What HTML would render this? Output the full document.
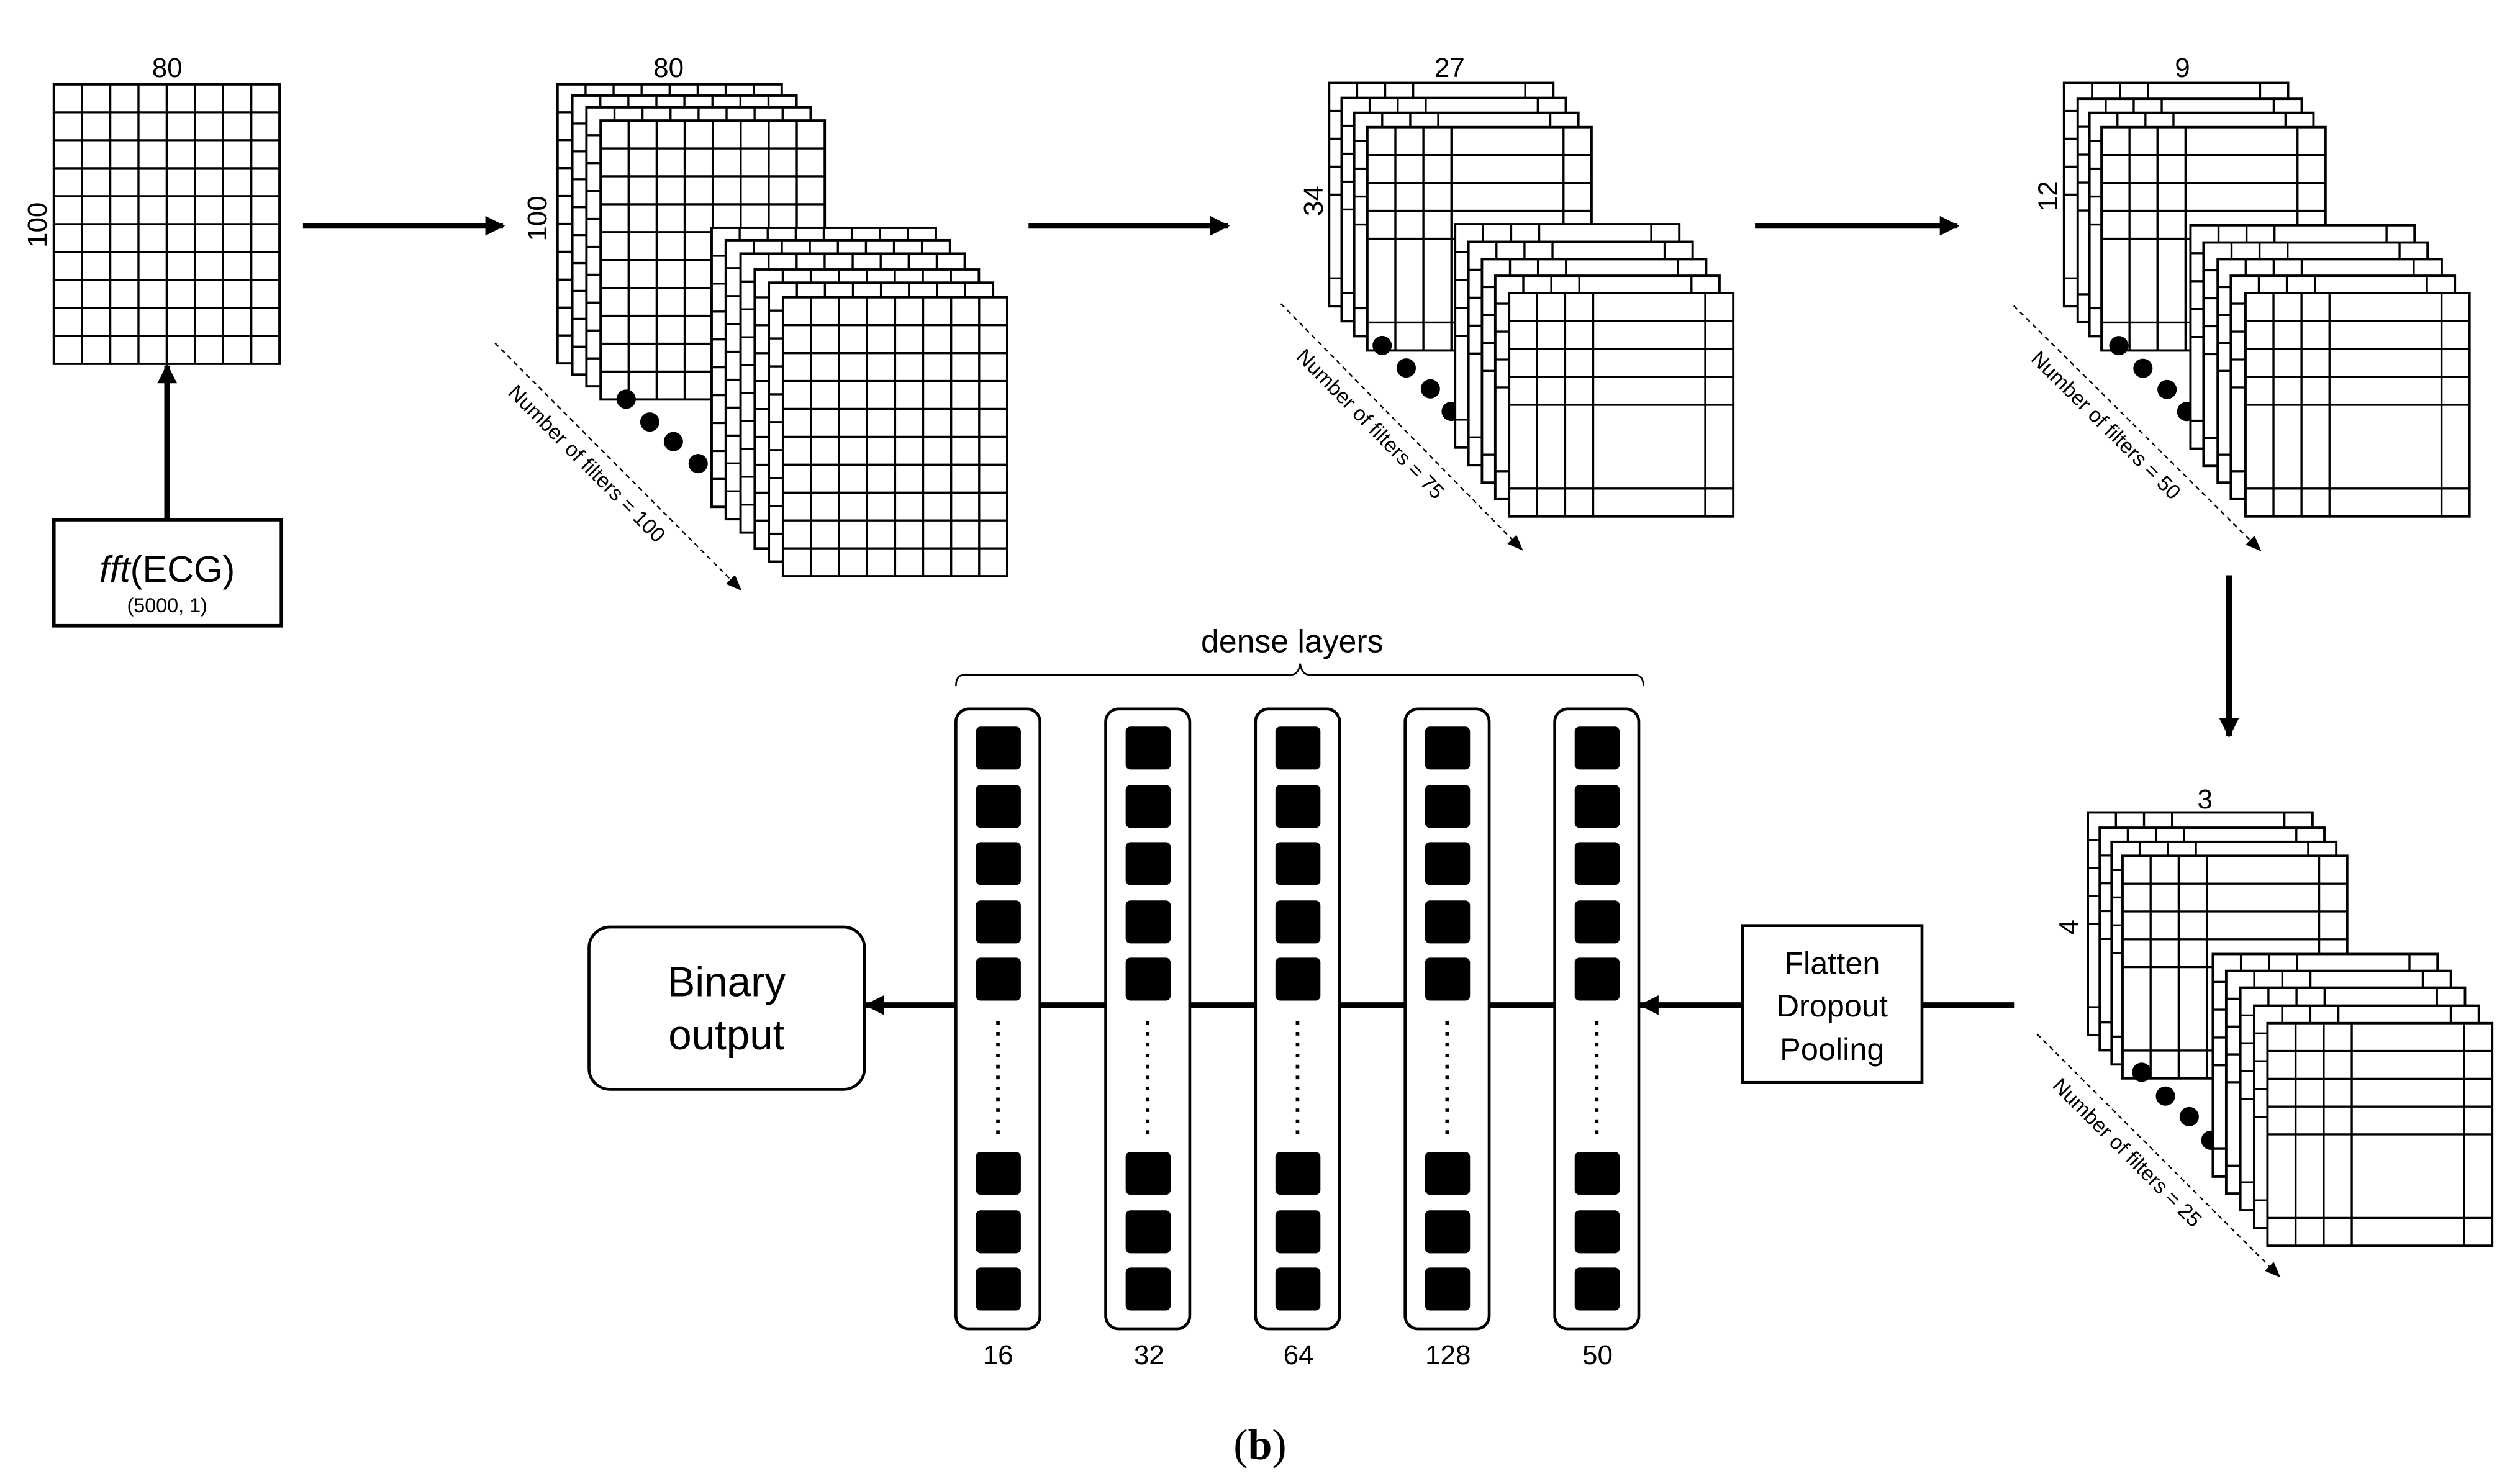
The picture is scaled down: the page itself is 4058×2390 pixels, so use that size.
<!DOCTYPE html>
<html><head><meta charset="utf-8">
<style>
html,body{margin:0;padding:0;background:#fff;}
svg{display:block;}
text{font-family:"Liberation Sans",Arial,sans-serif;fill:#000;}
</style></head>
<body>
<svg id="s" xmlns="http://www.w3.org/2000/svg" width="4058" height="2390" viewBox="0 0 1568 923.5">
<defs>
<marker id="ah" viewBox="0 0 10 10" refX="9" refY="5" markerWidth="3.4" markerHeight="3.4" orient="auto" markerUnits="strokeWidth"><path d="M0,0 L10,5 L0,10 z" fill="#000"/></marker>
<marker id="ahd" viewBox="0 0 10 10" refX="9" refY="5" markerWidth="11" markerHeight="11" orient="auto" markerUnits="strokeWidth"><path d="M0,1 L10,5 L0,9 z" fill="#000"/></marker>
</defs>
<rect width="1568" height="923.5" fill="#fff"/>
<g id="g"></g>

<text x="104" y="48" font-size="17" text-anchor="middle">80</text>
<text transform="translate(29,140) rotate(-90)" font-size="17" text-anchor="middle">100</text>
<text x="416" y="48" font-size="17" text-anchor="middle">80</text>
<text transform="translate(340,136) rotate(-90)" font-size="17" text-anchor="middle">100</text>
<text x="902" y="48" font-size="17" text-anchor="middle">27</text>
<text transform="translate(823,125) rotate(-90)" font-size="17" text-anchor="middle">34</text>
<text x="1358" y="48" font-size="17" text-anchor="middle">9</text>
<text transform="translate(1280,122) rotate(-90)" font-size="17" text-anchor="middle">12</text>
<text x="1372" y="503" font-size="17" text-anchor="middle">3</text>
<text transform="translate(1293,577) rotate(-90)" font-size="17" text-anchor="middle">4</text>

<rect x="33.5" y="323.4" width="141.6" height="66" fill="#fff" stroke="#000" stroke-width="2.2"/>
<text x="104" y="362" font-size="23" text-anchor="middle"><tspan font-style="italic">fft</tspan>(ECG)</text>
<text x="104" y="381" font-size="12.5" text-anchor="middle">(5000, 1)</text>

<text x="804" y="406" font-size="20" text-anchor="middle">dense layers</text>
<path d="M594.8,427 Q594.8,420 600,420 L803,420 Q808,420 809,413 Q810,420 815,420 L1017,420 Q1022.6,420 1022.6,427" fill="none" stroke="#000" stroke-width="1"/>

<text x="621" y="849" font-size="17" text-anchor="middle">16</text>
<text x="715" y="849" font-size="17" text-anchor="middle">32</text>
<text x="808" y="849" font-size="17" text-anchor="middle">64</text>
<text x="901" y="849" font-size="17" text-anchor="middle">128</text>
<text x="994" y="849" font-size="17" text-anchor="middle">50</text>

<rect x="366.5" y="576.9" width="171.4" height="101" rx="13" fill="#fff" stroke="#000" stroke-width="1.8"/>
<text x="452" y="620" font-size="26" text-anchor="middle">Binary</text>
<text x="452" y="653" font-size="26" text-anchor="middle">output</text>

<rect x="1084.2" y="576" width="111.7" height="97.6" fill="#fff" stroke="#000" stroke-width="1.8"/>
<text x="1140" y="606" font-size="19.5" text-anchor="middle">Flatten</text>
<text x="1140" y="632.5" font-size="19.5" text-anchor="middle">Dropout</text>
<text x="1140" y="659.5" font-size="19.5" text-anchor="middle">Pooling</text>

<text x="784" y="908" font-size="27" text-anchor="middle" style="font-family:'Liberation Serif',serif">(<tspan font-weight="bold">b</tspan>)</text>
</svg>
<script>
(function(){
var NS="http://www.w3.org/2000/svg";
var g=document.getElementById('g');
function el(t,a){var e=document.createElementNS(NS,t);for(var k in a)e.setAttribute(k,a[k]);g.appendChild(e);return e;}
function sheet(x,y,w,h,type){
  el('rect',{x:x,y:y,width:w,height:h,fill:'#fff',stroke:'#000','stroke-width':1.5});
  var cf,rf;
  if(type==='d'){cf=[];for(var i=1;i<8;i++)cf.push(i/8);rf=[];for(i=1;i<10;i++)rf.push(i/10);}
  else{cf=[0.125,0.25,0.375,0.875];rf=[0.125,0.25,0.375,0.5,0.875];}
  cf.forEach(function(f){el('line',{x1:x+w*f,y1:y,x2:x+w*f,y2:y+h,stroke:'#000','stroke-width':1.3});});
  rf.forEach(function(f){el('line',{x1:x,y1:y+h*f,x2:x+w,y2:y+h*f,stroke:'#000','stroke-width':1.3});});
}
function layer(back,front,w,h,type,dots,arr,label){
  el('line',{x1:arr[0],y1:arr[1],x2:arr[2],y2:arr[3],stroke:'#000','stroke-width':0.9,'stroke-dasharray':'3,2.5','marker-end':'url(#ahd)'});
  var mx=(arr[0]+arr[2])/2-20,my=(arr[1]+arr[3])/2-1;
  var ang=Math.atan2(arr[3]-arr[1],arr[2]-arr[0])*180/Math.PI;
  var t=el('text',{transform:'translate('+mx+','+my+') rotate('+ang+')','font-size':13,'text-anchor':'middle','dominant-baseline':'middle'});
  t.textContent=label;
  back.forEach(function(p){sheet(p[0],p[1],w,h,type);});
  dots.forEach(function(d){el('circle',{cx:d[0],cy:d[1],r:6,fill:'#000'});});
  front.forEach(function(p){sheet(p[0],p[1],w,h,type);});
}
sheet(33.5,52.5,140.4,173.9,'d');
layer([[346.9,52.5],[356.1,59.5],[364.9,66.8],[373.7,75]],
      [[442.8,141.8],[451.6,149.5],[460.8,157.8],[469.6,167.7],[478.4,175.9],[487.2,185]],
      139.5,173.6,'d',[[389.6,248.4],[404.3,262.6],[419,274.8],[434.4,288.5]],
      [308,213.5,460.8,366.9],'Number of filters = 100');
layer([[827,51.6],[834.8,60.9],[842.6,70.2],[850.8,79.1]],
      [[905.4,139.5],[913.7,150.5],[922.1,161.3],[930.4,171.6],[939,182.4]],
      139.5,139,'s',[[860,215],[875,229],[890,242],[903,256]],
      [797,189,947,342],'Number of filters = 75');
layer([[1284.3,51.6],[1292.8,61.5],[1300.1,70.2],[1307.6,79.1]],
      [[1363,140.2],[1371.1,150.9],[1379.9,161.3],[1388.1,171.6],[1397.2,182.4]],
      139.4,139,'s',[[1318.4,215.1],[1333.4,229.2],[1348.4,242.4],[1360.6,256.1]],
      [1253,190.3,1406.4,342.4],'Number of filters = 50');
layer([[1299.1,505.6],[1306.5,515.1],[1313.9,523.9],[1320.7,532.6]],
      [[1376.9,593.7],[1385.2,604.2],[1394,614.6],[1402.6,625.8],[1410.9,636.7]],
      139.8,138.5,'s',[[1332.6,667.3],[1347.4,682.1],[1362.2,694.9],[1375.6,709.6]],
      [1267.5,643.5,1418.3,794.3],'Number of filters = 25');
function arrow(x1,y1,x2,y2){el('line',{x1:x1,y1:y1,x2:x2,y2:y2,stroke:'#000','stroke-width':3.6,'marker-end':'url(#ah)'});}
arrow(188.5,140.5,313,140.5);
arrow(640,140.5,764,140.5);
arrow(1092,140.5,1218,140.5);
arrow(104,323.4,104,227.5);
arrow(1387,358,1387,458);
el('line',{x1:1195.9,y1:625.5,x2:1253.2,y2:625.5,stroke:'#000','stroke-width':3.6});
arrow(1084.2,625.5,1021,625.5);
arrow(1021,625.5,539,625.5);
[594.8,688,781.2,874.3,967.4].forEach(function(cx){
  el('rect',{x:cx,y:441.2,width:52.3,height:385.7,rx:8,fill:'#fff',stroke:'#000','stroke-width':1.8});
  var sx=cx+12.4;
  [452.2,488.5,524.1,560.4,596,716.8,753.2,788.8].forEach(function(y){
    el('rect',{x:sx,y:y,width:28,height:26.7,rx:3,fill:'#000'});
  });
  el('line',{x1:cx+26.15,y1:635.4,x2:cx+26.15,y2:706,stroke:'#000','stroke-width':2.2,'stroke-dasharray':'2.2,4.6'});
});
})();
</script>
</body></html>
